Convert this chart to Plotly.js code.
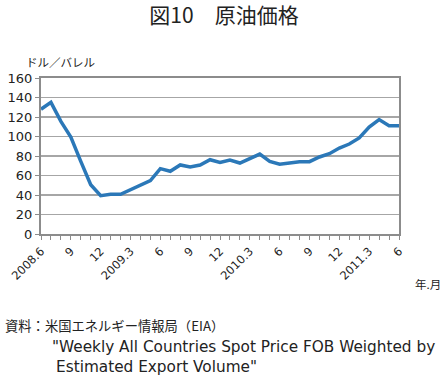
<!DOCTYPE html>
<html><head><meta charset="utf-8">
<script src="https://cdn.plot.ly/plotly-3.0.1.min.js"></script>
<style>html,body{margin:0;padding:0;background:#fff}#c{width:448px;height:379px}</style>
</head><body><div id="c"></div>
<script>
// monthly, 2008.6 .. 2011.6
const months = ["2008.6","2008.7","2008.8","2008.9","2008.10","2008.11","2008.12",
"2009.1","2009.2","2009.3","2009.4","2009.5","2009.6","2009.7","2009.8","2009.9","2009.10","2009.11","2009.12",
"2010.1","2010.2","2010.3","2010.4","2010.5","2010.6","2010.7","2010.8","2010.9","2010.10","2010.11","2010.12",
"2011.1","2011.2","2011.3","2011.4","2011.5","2011.6"];
const price = [128,135,115.5,99.5,74.5,50.6,39.3,
40.7,40.7,45.5,49.6,54.7,67,64.3,70.8,68.7,70.8,76.2,73.5,
75.8,72.8,77.3,82,74.5,71.5,72.8,74.2,74.2,79,82.4,88.2,
92.3,98.5,109.7,117.3,111,111];
const tickLabels = ["2008.6","9","12","2009.3","6","9","12","2010.3","6","9","12","2011.3","6"];

const xIdx = months.map((m,i)=>i);
const tickVals = tickLabels.map((t,i)=>i*3);
const F = '"Noto Sans CJK JP", "Liberation Sans", sans-serif';
const FL = '"DejaVu Sans", "Noto Sans CJK JP", sans-serif';

Plotly.newPlot('c',[{
  x:xIdx, y:price, type:'scatter', mode:'lines',
  line:{color:'#2b78b8', width:3.5}, hoverinfo:'skip'
}],{
  width:448, height:379,
  margin:{l:41, r:49, t:78, b:145},
  paper_bgcolor:'#fff', plot_bgcolor:'#fff',
  showlegend:false,
  title:{text:'図10　原油価格', font:{family:F, size:21, color:'#222'}, x:0.5, xanchor:'center', y:0.958, yanchor:'middle'},
  xaxis:{
    range:[0,36], tickmode:'array', tickvals:tickVals, ticktext:tickLabels,
    tickangle:-45, tickfont:{family:FL, size:11.5, color:'#222'},
    showgrid:false, zeroline:false, showline:true, linecolor:'#8c8c8c', linewidth:2, mirror:true,
    ticks:'outside', ticklen:4, tickcolor:'#8c8c8c', tickwidth:1,
    minor:{dtick:1, ticks:'outside', ticklen:4, tickcolor:'#8c8c8c', tickwidth:1, showgrid:false}
  },
  yaxis:{
    range:[0,160], dtick:20, tickfont:{family:FL, size:13, color:'#222'},
    showgrid:true, gridcolor:'#a6a6a6', gridwidth:1.5, zeroline:false,
    showline:true, linecolor:'#8c8c8c', linewidth:2, mirror:true,
    ticks:'outside', ticklen:4, tickcolor:'#8c8c8c'
  },
  annotations:[
    {text:'ドル／バレル', xref:'paper', yref:'paper', x:0.055, y:1.1, xanchor:'center', yanchor:'middle', showarrow:false, font:{family:F, size:11.5, color:'#222'}},
    {text:'年.月', xref:'paper', yref:'paper', x:1.04, y:-0.32, xanchor:'left', yanchor:'middle', showarrow:false, font:{family:F, size:11.5, color:'#222'}},
    {text:'資料：米国エネルギー情報局（EIA）', xref:'paper', yref:'paper', x:-0.105, y:-0.585, xanchor:'left', yanchor:'middle', showarrow:false, font:{family:F, size:13.3, color:'#222'}},
    {text:'"Weekly All Countries Spot Price FOB Weighted by', xref:'paper', yref:'paper', x:0.025, y:-0.725, xanchor:'left', yanchor:'middle', showarrow:false, font:{family:FL, size:15.3, color:'#222'}},
    {text:'Estimated Export Volume"', xref:'paper', yref:'paper', x:0.035, y:-0.855, xanchor:'left', yanchor:'middle', showarrow:false, font:{family:FL, size:15.3, color:'#222'}}
  ]
},{staticPlot:true});
</script></body></html>
